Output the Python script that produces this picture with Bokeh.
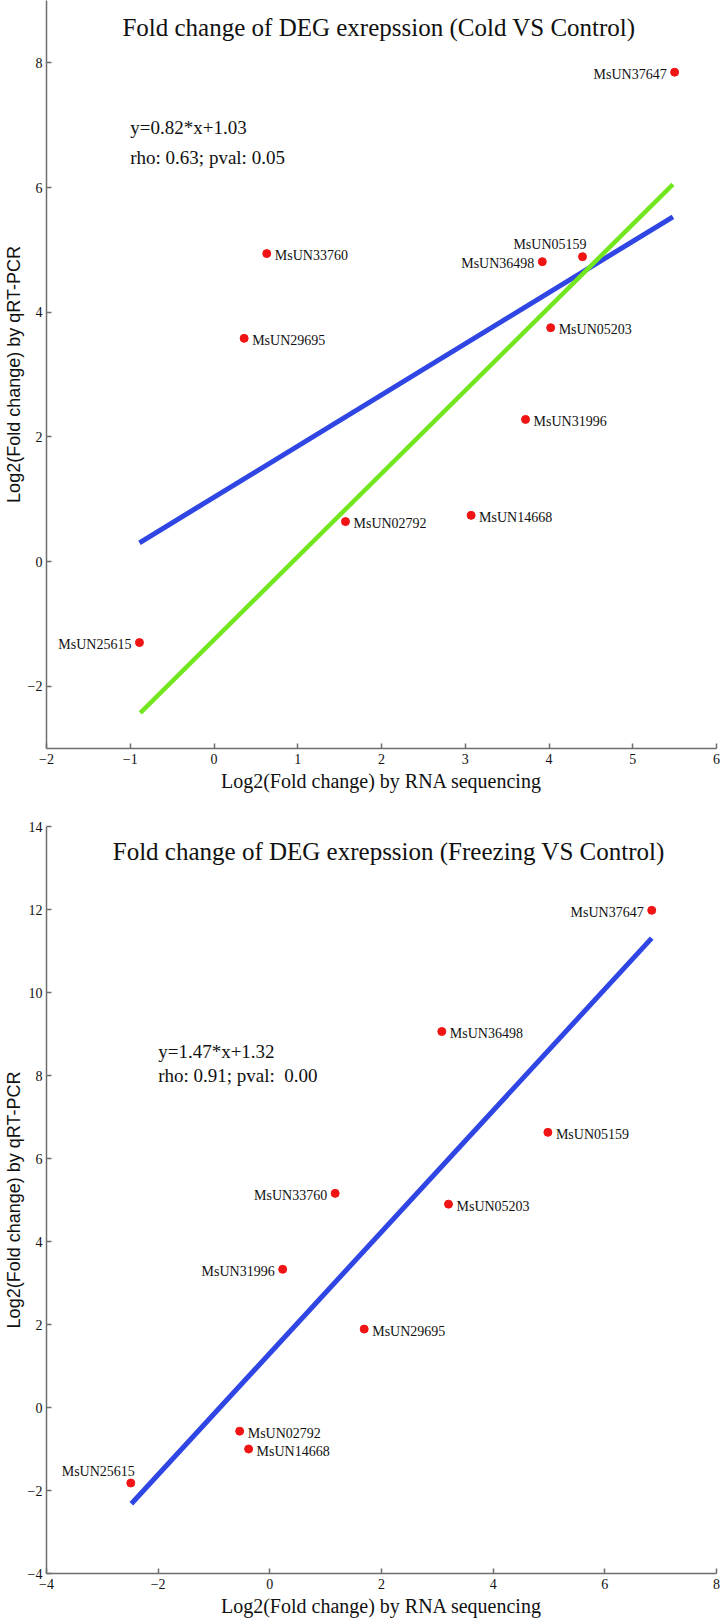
from bokeh.plotting import figure
from bokeh.models import ColumnDataSource, Label, FixedTicker, Range1d
from bokeh.layouts import column
from bokeh.core.properties import value
from bokeh.embed import file_html
from bokeh.resources import INLINE

# ---------------- data ----------------
cold_title = "Fold change of DEG exrepssion (Cold VS Control)"
cold_genes = ["MsUN37647", "MsUN33760", "MsUN05159", "MsUN36498", "MsUN05203",
              "MsUN29695", "MsUN31996", "MsUN14668", "MsUN02792", "MsUN25615"]
cold_seq = [5.50, 0.63, 4.40, 3.92, 4.02, 0.36, 3.72, 3.07, 1.57, -0.89]
cold_qpcr = [7.85, 4.94, 4.89, 4.81, 3.75, 3.58, 2.28, 0.74, 0.64, -1.30]
cold_label_side = ["l", "r", "t", "l", "r", "r", "r", "r", "r", "l"]
cold_fit_x = [-0.89, 5.48]
cold_fit_y = [0.30, 5.53]
cold_ref_x = [-0.88, 5.48]
cold_ref_y = [-2.43, 6.05]
cold_eq = "y=0.82*x+1.03"
cold_stat = "rho: 0.63; pval: 0.05"
cold_xticks = [-2, -1, 0, 1, 2, 3, 4, 5, 6]
cold_yticks = [-2, 0, 2, 4, 6, 8]

freeze_title = "Fold change of DEG exrepssion (Freezing VS Control)"
freeze_genes = ["MsUN37647", "MsUN36498", "MsUN05159", "MsUN33760", "MsUN05203",
                "MsUN31996", "MsUN29695", "MsUN02792", "MsUN14668", "MsUN25615"]
freeze_seq = [6.84, 3.08, 4.98, 1.17, 3.20, 0.23, 1.69, -0.54, -0.38, -2.49]
freeze_qpcr = [11.98, 9.06, 6.63, 5.16, 4.90, 3.33, 1.89, -0.57, -1.00, -1.82]
freeze_label_side = ["l", "r", "r", "l", "r", "l", "r", "r", "r", "t"]
freeze_fit_x = [-2.48, 6.84]
freeze_fit_y = [-2.32, 11.31]
freeze_eq = "y=1.47*x+1.32"
freeze_stat = "rho: 0.91; pval:\u00a0 0.00"
freeze_xticks = [-4, -2, 0, 2, 4, 6, 8]
freeze_yticks = [-4, -2, 0, 2, 4, 6, 8, 10, 12, 14]

x_label = "Log2(Fold change) by RNA sequencing"
y_label = "Log2(Fold change) by qRT-PCR"

# ---------------- style ----------------
SERIF = "Liberation Serif"
SANS = "Liberation Sans"
RED = "#f01414"
BLUE = "#2f45e4"
GREEN = "#72e61e"
AXIS = "#6e6e6e"


def make_panel(height, xr, yr, xticks, yticks, border_top, border_bottom):
    p = figure(width=720, height=height, x_range=Range1d(*xr), y_range=Range1d(*yr),
               output_backend="svg", toolbar_location=None,
               min_border_left=44, min_border_right=4,
               min_border_top=border_top, min_border_bottom=border_bottom)
    p.outline_line_color = None
    p.grid.visible = False
    p.background_fill_color = "white"
    p.border_fill_color = "white"
    p.xaxis.ticker = FixedTicker(ticks=xticks)
    p.yaxis.ticker = FixedTicker(ticks=yticks)
    for ax in (p.xaxis, p.yaxis):
        ax.axis_line_color = AXIS
        ax.axis_line_width = 1.5
        ax.major_tick_line_color = AXIS
        ax.major_tick_line_width = 1.5
        ax.major_tick_in = 5
        ax.major_tick_out = 0
        ax.minor_tick_line_color = None
        ax.major_label_text_font = SERIF
        ax.major_label_text_font_size = "14px"
        ax.major_label_text_color = "#111111"
        ax.major_label_standoff = 4
        ax.axis_label_text_font_style = "normal"
        ax.axis_label_text_color = "#111111"
    p.xaxis.major_label_standoff = 5
    p.xaxis.axis_label = x_label
    p.xaxis.axis_label_text_font = SERIF
    p.xaxis.axis_label_text_font_size = "20px"
    p.xaxis.axis_label_standoff = 3
    p.yaxis.axis_label = y_label
    p.yaxis.axis_label_text_font = SANS
    p.yaxis.axis_label_text_font_size = "18px"
    p.yaxis.axis_label_standoff = 1
    return p


def add_points(p, genes, xs, ys, sides):
    xo, yo, al = [], [], []
    for s in sides:
        if s == "r":
            xo.append(8); yo.append(2); al.append("left")
        elif s == "l":
            xo.append(-8); yo.append(2); al.append("right")
        else:
            xo.append(4); yo.append(-12); al.append("right")
    src = ColumnDataSource(dict(x=xs, y=ys, name=genes, xo=xo, yo=yo, al=al))
    p.scatter("x", "y", source=src, size=8, color=RED, line_color=RED)
    p.text("x", "y", text="name", source=src, x_offset="xo", y_offset="yo",
           text_align="al", text_baseline="middle",
           text_font=value(SERIF), text_font_size="14px", text_color="#111111")


def add_texts(p, title, tx, ty, eq, stat, ax_, ey1, ey2):
    p.add_layout(Label(x=tx, y=ty, text=title, text_align="center", text_baseline="middle",
                       text_font=SERIF, text_font_size="25px", text_color="#111111"))
    p.add_layout(Label(x=ax_, y=ey1, text=eq, text_align="left", text_baseline="middle",
                       text_font=SERIF, text_font_size="19px", text_color="#111111"))
    p.add_layout(Label(x=ax_, y=ey2, text=stat, text_align="left", text_baseline="middle",
                       text_font=SERIF, text_font_size="19px", text_color="#111111"))


# ---------------- top panel ----------------
p1 = make_panel(796, (-2, 6), (-3, 9), cold_xticks, cold_yticks, 0, 48)
p1.line(cold_fit_x, cold_fit_y, line_color=BLUE, line_width=5)
p1.line(cold_ref_x, cold_ref_y, line_color=GREEN, line_width=4.5)
add_points(p1, cold_genes, cold_seq, cold_qpcr, cold_label_side)
add_texts(p1, cold_title, 1.97, 8.57, cold_eq, cold_stat, -1.0, 6.97, 6.48)

# ---------------- bottom panel ----------------
p2 = make_panel(823, (-4, 8), (-4, 14), freeze_xticks, freeze_yticks, 30, 45)
p2.line(freeze_fit_x, freeze_fit_y, line_color=BLUE, line_width=5)
add_points(p2, freeze_genes, freeze_seq, freeze_qpcr, freeze_label_side)
add_texts(p2, freeze_title, 2.13, 13.40, freeze_eq, freeze_stat, -2.0, 8.59, 7.99)

# shift the whole layout left/right onto the page edge; top already sits at 0
layout = column(p1, p2, margin=(0, -8, -8, 0), spacing=0)

open("out.html", "w").write(file_html(layout, INLINE))
